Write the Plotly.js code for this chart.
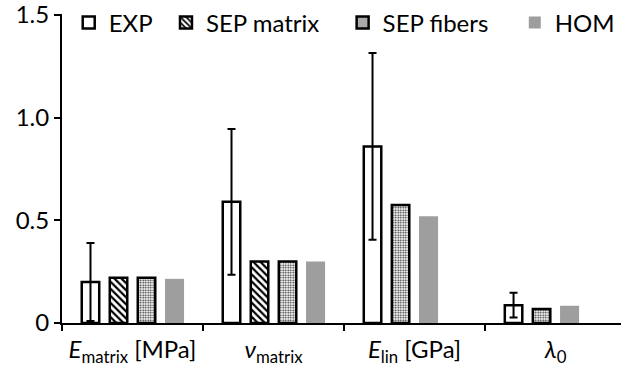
<!DOCTYPE html>
<html><head><meta charset="utf-8">
<script src="https://cdn.plot.ly/plotly-3.0.1.min.js"></script>
<style>html,body{margin:0;padding:0;background:#fff}#c{width:621px;height:366px}</style>
</head><body><div id="c"></div>
<script>
const categories = ["<i>E</i><sub>matrix</sub> [MPa]", "<i>ν</i><sub>matrix</sub>", "<i>E</i><sub>lin</sub> [GPa]", "<i>λ</i><sub>0</sub>"];
const expValues = [0.20, 0.59, 0.86, 0.087];
const expErrors = [0.19, 0.355, 0.455, 0.06];
const sepMatrixValues = [0.22, 0.30, null, null];
const sepFibersValues = [0.22, 0.30, 0.575, 0.068];
const homValues = [0.215, 0.30, 0.52, 0.084];
const yTickVals = [0, 0.5, 1.0, 1.5];
const yTickText = ["0", "0.5", "1.0", "1.5"];

const FONT = "Lato, 'Liberation Sans', sans-serif";
const W = 0.124, WH = 0.135;
const slot = [-0.298, -0.0993, 0.0993, 0.298];
const off = s => s - W/2, offH = s => s - WH/2;

const traces = [
  {type:'bar', name:'EXP', x:categories, y:expValues, legend:'legend',
   width:W, offset:off(slot[0]),
   marker:{color:'#ffffff', line:{color:'#000', width:2.5}},
   error_y:{type:'data', array:expErrors, visible:true, color:'#000', thickness:2, width:4}},
  {type:'bar', name:'SEP matrix', x:categories, y:sepMatrixValues, legend:'legend2',
   width:W, offset:off(slot[1]),
   marker:{color:'#ffffff', line:{color:'#000', width:2.5},
     pattern:{shape:'\\', fgcolor:'#000', bgcolor:'#fff', size:5, solidity:0.45, fillmode:'replace'}}},
  {type:'bar', name:'SEP fibers', x:categories, y:sepFibersValues, legend:'legend3',
   width:W, offset:[off(slot[2]), off(slot[2]), off(slot[1]), off(slot[1])],
   marker:{color:'#ffffff', line:{color:'#000', width:2.5},
     pattern:{shape:'.', fgcolor:'#222', bgcolor:'#fff', size:2.5, solidity:0.4, fillmode:'replace'}}},
  {type:'bar', name:'HOM', x:categories, y:homValues, legend:'legend4',
   width:WH, offset:[offH(slot[3]), offH(slot[3]), offH(slot[2]), offH(slot[2])],
   marker:{color:'#9e9e9e', line:{width:0}}}
];

const leg = (x) => ({x:x, y:0.971, xanchor:'left', yanchor:'middle', orientation:'h',
  bgcolor:'rgba(0,0,0,0)', font:{family:FONT, size:24, color:'#000'}});

const layout = {
  width:621, height:366,
  margin:{l:62, r:0, t:12, b:43},
  paper_bgcolor:'#fff', plot_bgcolor:'#fff',
  font:{family:FONT, size:23, color:'#000'},
  barmode:'overlay',
  showlegend:true,
  legend:leg(0.012), legend2:leg(0.186), legend3:leg(0.502), legend4:leg(0.81),
  xaxis:{type:'category', range:[-0.5, 3.464], tickson:'boundaries', ticks:'outside',
    ticklen:6, tickwidth:2, tickcolor:'#000', showline:true, linewidth:2, linecolor:'#000',
    showgrid:false, zeroline:false, ticklabelstandoff:4, ticklabeloverflow:'allow',
    tickfont:{family:FONT, size:24, color:'#000'}},
  yaxis:{range:[0, 1.505], tickvals:yTickVals, ticktext:yTickText, ticks:'outside',
    ticklen:6, tickwidth:2, tickcolor:'#000', showline:true, linewidth:2, linecolor:'#000',
    showgrid:false, zeroline:false, ticklabeloverflow:'allow',
    tickfont:{family:FONT, size:24, color:'#000'}}
};

Plotly.newPlot('c', traces, layout, {displayModeBar:false, staticPlot:true});
</script></body></html>
